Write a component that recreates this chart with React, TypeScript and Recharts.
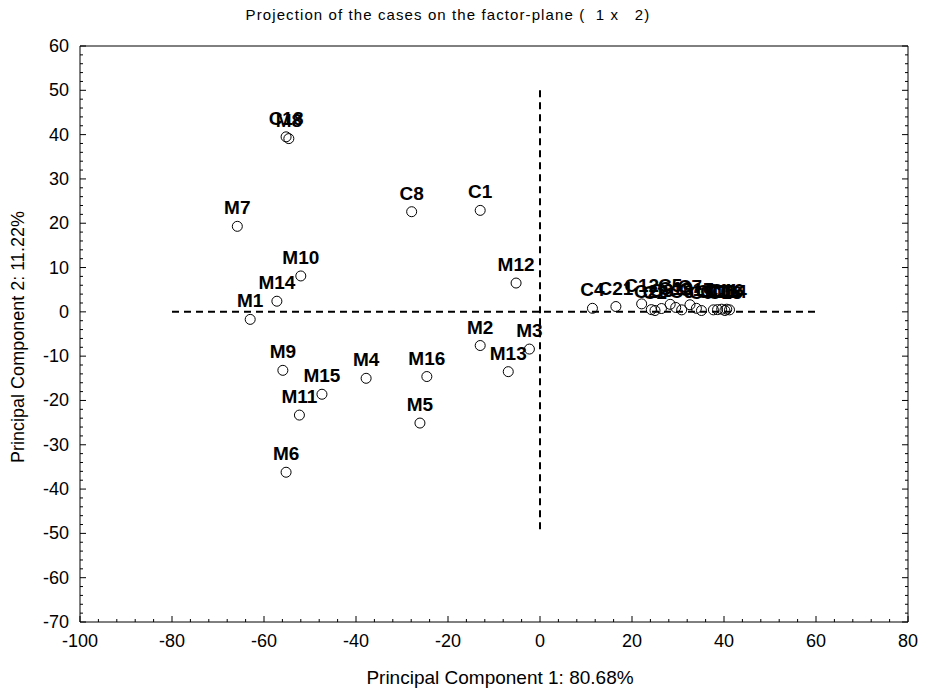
import React from "react";
import {
  ScatterChart,
  Scatter,
  XAxis,
  YAxis,
  ReferenceLine,
} from "recharts";

const caseNames = [
  "C1", "C8", "C18", "M8",
  "M1", "M2", "M3", "M4", "M5", "M6", "M7", "M9", "M10", "M11", "M12", "M13", "M14", "M15", "M16",
  "C4", "C21", "C12", "C20", "C2", "C3", "C5", "C19", "C6", "C7", "C17", "C9", "C10", "C15", "C11", "C13", "C16", "C14",
];
const pc1 = [
  -13.0, -27.9, -55.2, -54.6,
  -63.0, -13.0, -2.3, -37.8, -26.1, -55.2, -65.8, -55.9, -52.0, -52.3, -5.2, -6.9, -57.2, -47.4, -24.6,
  11.4, 16.5, 22.1, 24.2, 25.0, 26.4, 28.3, 29.5, 30.8, 32.6, 34.0, 35.1, 37.7, 38.6, 39.5, 40.2, 40.6, 41.2,
];
const pc2 = [
  22.9, 22.6, 39.5, 39.1,
  -1.7, -7.6, -8.4, -15.0, -25.1, -36.2, 19.3, -13.2, 8.1, -23.3, 6.5, -13.5, 2.4, -18.6, -14.6,
  0.8, 1.2, 1.8, 0.5, 0.3, 0.75, 1.7, 1.0, 0.45, 1.6, 0.8, 0.3, 0.45, 0.5, 0.6, 0.3, 0.6, 0.45,
];

const xMajorTicks = [-100, -80, -60, -40, -20, 0, 20, 40, 60, 80];
const yMajorTicks = [-70, -60, -50, -40, -30, -20, -10, 0, 10, 20, 30, 40, 50, 60];
const xMinorStep = 4;
const yMinorStep = 2;

const xTicks: number[] = [];
for (let v = xMajorTicks[0]; v <= xMajorTicks[xMajorTicks.length - 1]; v += xMinorStep) xTicks.push(v);
const yTicks: number[] = [];
for (let v = yMajorTicks[0]; v <= yMajorTicks[yMajorTicks.length - 1]; v += yMinorStep) yTicks.push(v);

const points = caseNames.map((name, i) => ({ name, x: pc1[i], y: pc2[i] }));

const FONT = "'Liberation Sans', Arial, sans-serif";

const isMajorX = (v: number) => xMajorTicks.includes(v);
const isMajorY = (v: number) => yMajorTicks.includes(v);

const BottomTick = (props: any) => {
  const { x, y, payload } = props;
  const v = payload.value;
  const major = isMajorX(v);
  return (
    <g>
      <line x1={x} x2={x} y1={y} y2={y - (major ? 6 : 3)} stroke="#000" />
      {major && (
        <text x={x} y={y + 25} textAnchor="middle" fontSize={18} fontFamily={FONT} fill="#000">
          {v}
        </text>
      )}
    </g>
  );
};

const TopTick = (props: any) => {
  const { x, y, payload } = props;
  const major = isMajorX(payload.value);
  return <line x1={x} x2={x} y1={y} y2={y + (major ? 6 : 3)} stroke="#000" />;
};

const LeftTick = (props: any) => {
  const { x, y, payload } = props;
  const v = payload.value;
  const major = isMajorY(v);
  return (
    <g>
      <line x1={x} x2={x + (major ? 6 : 3)} y1={y} y2={y} stroke="#000" />
      {major && (
        <text x={x - 11} y={y + 6} textAnchor="end" fontSize={18} fontFamily={FONT} fill="#000">
          {v}
        </text>
      )}
    </g>
  );
};

const RightTick = (props: any) => {
  const { x, y, payload } = props;
  const major = isMajorY(payload.value);
  return <line x1={x} x2={x - (major ? 6 : 3)} y1={y} y2={y} stroke="#000" />;
};

const PointShape = (props: any) => {
  const { cx, cy, payload } = props;
  return (
    <g>
      <circle cx={cx} cy={cy} r={5} fill="none" stroke="#000" strokeWidth={1} />
      <text
        x={cx}
        y={cy - 12}
        textAnchor="middle"
        fontSize={19}
        fontWeight="bold"
        fontFamily={FONT}
        fill="#000"
      >
        {payload.name}
      </text>
    </g>
  );
};

export default function App() {
  return (
    <div style={{ position: "absolute", left: 0, top: 0, width: 925, height: 689, background: "#fff" }}>
      <ScatterChart
        width={925}
        height={689}
        margin={{ top: 36, right: 7, bottom: 37, left: 20 }}
      >
        <XAxis
          xAxisId="b"
          dataKey="x"
          type="number"
          domain={[-100, 80]}
          ticks={xTicks}
          interval={0}
          height={30}
          tickSize={0}
          tickMargin={0}
          tickLine={false}
          tick={<BottomTick />}
          axisLine={{ stroke: "#000" }}
          allowDataOverflow
        />
        <XAxis
          xAxisId="t"
          orientation="top"
          type="number"
          domain={[-100, 80]}
          ticks={xTicks}
          interval={0}
          height={10}
          tickSize={0}
          tickMargin={0}
          tickLine={false}
          tick={<TopTick />}
          axisLine={{ stroke: "#000" }}
          allowDataOverflow
        />
        <YAxis
          yAxisId="l"
          dataKey="y"
          type="number"
          domain={[-70, 60]}
          ticks={yTicks}
          interval={0}
          width={60}
          tickSize={0}
          tickMargin={0}
          tickLine={false}
          tick={<LeftTick />}
          axisLine={{ stroke: "#000" }}
          allowDataOverflow
        />
        <YAxis
          yAxisId="r"
          orientation="right"
          type="number"
          domain={[-70, 60]}
          ticks={yTicks}
          interval={0}
          width={10}
          tickSize={0}
          tickMargin={0}
          tickLine={false}
          tick={<RightTick />}
          axisLine={{ stroke: "#000" }}
          allowDataOverflow
        />
        <ReferenceLine
          xAxisId="b"
          yAxisId="l"
          segment={[{ x: -80, y: 0 }, { x: 60, y: 0 }]}
          stroke="#000"
          strokeWidth={2}
          strokeDasharray="7 5"
          ifOverflow="visible"
        />
        <ReferenceLine
          xAxisId="b"
          yAxisId="l"
          segment={[{ x: 0, y: 50 }, { x: 0, y: -50 }]}
          stroke="#000"
          strokeWidth={2}
          strokeDasharray="7 5"
          ifOverflow="visible"
        />
        <Scatter
          xAxisId="b"
          yAxisId="l"
          data={points}
          shape={<PointShape />}
          isAnimationActive={false}
        />
        <text
          x={448}
          y={20}
          textAnchor="middle"
          fontSize={15}
          fontFamily={FONT}
          letterSpacing={1.1}
          fill="#000"
          style={{ whiteSpace: "pre" }}
        >
          {"Projection of the cases on the factor-plane (  1 x   2)"}
        </text>
        <text
          x={500}
          y={684}
          textAnchor="middle"
          fontSize={19}
          fontFamily={FONT}
          fill="#000"
        >
          Principal Component 1: 80.68%
        </text>
        <text
          x={24}
          y={337}
          textAnchor="middle"
          fontSize={18}
          fontFamily={FONT}
          fill="#000"
          transform="rotate(-90, 24, 337)"
        >
          Principal Component 2: 11.22%
        </text>
      </ScatterChart>
    </div>
  );
}
